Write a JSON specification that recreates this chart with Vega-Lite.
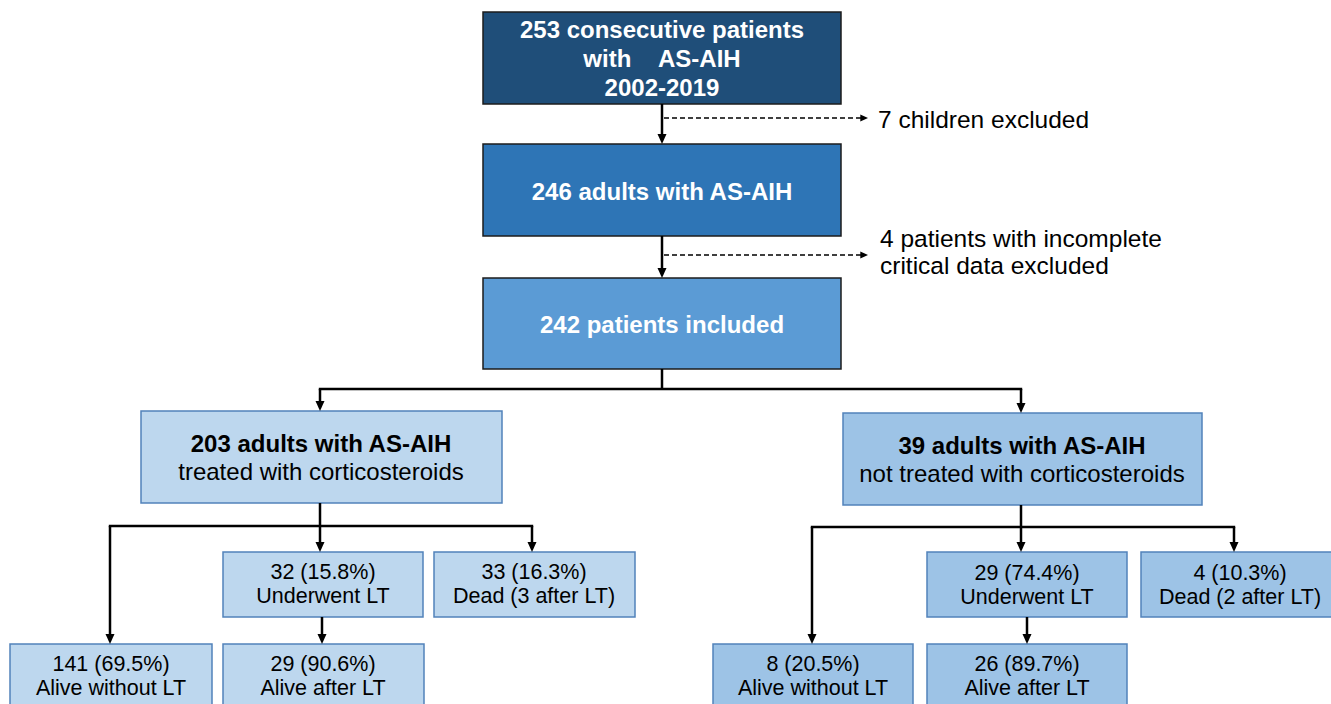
{
  "$schema": "https://vega.github.io/schema/vega-lite/v6.json",
  "width": 1331,
  "height": 704,
  "autosize": {"type": "fit", "contains": "padding"},
  "padding": 0,
  "background": "white",
  "config": {"view": {"stroke": null}},
  "datasets": {
    "boxes": [
      {"id": "b1", "tier": "t1", "x0": 483, "x1": 841, "y0": 12, "y1": 104},
      {"id": "b2", "tier": "t2", "x0": 483, "x1": 841, "y0": 144, "y1": 236},
      {"id": "b3", "tier": "t3", "x0": 483, "x1": 841, "y0": 278, "y1": 369},
      {"id": "L", "tier": "left", "x0": 141, "x1": 502, "y0": 411, "y1": 503},
      {"id": "R", "tier": "right", "x0": 843, "x1": 1202, "y0": 413, "y1": 505},
      {"id": "L1", "tier": "left", "x0": 223, "x1": 423, "y0": 552, "y1": 617},
      {"id": "L2", "tier": "left", "x0": 434, "x1": 635, "y0": 552, "y1": 617},
      {"id": "L3", "tier": "left", "x0": 10, "x1": 212, "y0": 644, "y1": 712},
      {"id": "L4", "tier": "left", "x0": 223, "x1": 424, "y0": 644, "y1": 712},
      {"id": "R1", "tier": "right", "x0": 927, "x1": 1127, "y0": 552, "y1": 617},
      {"id": "R2", "tier": "right", "x0": 1141, "x1": 1342, "y0": 552, "y1": 617},
      {"id": "R3", "tier": "right", "x0": 713, "x1": 913, "y0": 644, "y1": 712},
      {"id": "R4", "tier": "right", "x0": 927, "x1": 1127, "y0": 644, "y1": 712}
    ],
    "links": [
      {"x0": 662, "y0": 104, "x1": 662, "y1": 138},
      {"x0": 662, "y0": 236, "x1": 662, "y1": 272},
      {"x0": 662, "y0": 369, "x1": 662, "y1": 389},
      {"x0": 318.8, "y0": 389, "x1": 1022.2, "y1": 389},
      {"x0": 320, "y0": 389, "x1": 320, "y1": 405},
      {"x0": 1021, "y0": 389, "x1": 1021, "y1": 407},
      {"x0": 320, "y0": 503, "x1": 320, "y1": 546},
      {"x0": 108.8, "y0": 526, "x1": 533.2, "y1": 526},
      {"x0": 110, "y0": 526, "x1": 110, "y1": 638},
      {"x0": 532, "y0": 526, "x1": 532, "y1": 546},
      {"x0": 322, "y0": 617, "x1": 322, "y1": 638},
      {"x0": 1021, "y0": 505, "x1": 1021, "y1": 546},
      {"x0": 810.8, "y0": 527, "x1": 1235.2, "y1": 527},
      {"x0": 812, "y0": 527, "x1": 812, "y1": 638},
      {"x0": 1234, "y0": 527, "x1": 1234, "y1": 546},
      {"x0": 1027, "y0": 617, "x1": 1027, "y1": 638}
    ],
    "dashes": [
      {"x0": 664, "y0": 118, "x1": 862, "y1": 118},
      {"x0": 664, "y0": 255, "x1": 862, "y1": 255}
    ],
    "downTips": [
      {"x": 662, "y": 144}, {"x": 662, "y": 278}, {"x": 320, "y": 411},
      {"x": 1021, "y": 413}, {"x": 320, "y": 552}, {"x": 110, "y": 644},
      {"x": 532, "y": 552}, {"x": 322, "y": 644}, {"x": 1021, "y": 552},
      {"x": 812, "y": 644}, {"x": 1234, "y": 552}, {"x": 1027, "y": 644}
    ],
    "rightTips": [
      {"x": 868, "y": 118}, {"x": 868, "y": 255}
    ],
    "labels": [
      {"kind": "head", "x": 662, "y": 38, "text": "253 consecutive patients"},
      {"kind": "head", "x": 662, "y": 67, "text": "with\u00a0\u00a0\u00a0\u00a0AS-AIH"},
      {"kind": "head", "x": 662, "y": 96, "text": "2002-2019"},
      {"kind": "head", "x": 662, "y": 200, "text": "246 adults with AS-AIH"},
      {"kind": "head", "x": 662, "y": 333, "text": "242 patients included"},
      {"kind": "title", "x": 321, "y": 452, "text": "203 adults with AS-AIH"},
      {"kind": "title", "x": 1022, "y": 454, "text": "39 adults with AS-AIH"},
      {"kind": "body", "x": 321, "y": 480, "text": "treated with corticosteroids"},
      {"kind": "body", "x": 1022, "y": 482, "text": "not treated with corticosteroids"},
      {"kind": "small", "x": 323, "y": 579, "text": "32 (15.8%)"},
      {"kind": "small", "x": 323, "y": 603, "text": "Underwent LT"},
      {"kind": "small", "x": 534, "y": 579, "text": "33 (16.3%)"},
      {"kind": "small", "x": 534, "y": 603, "text": "Dead (3 after LT)"},
      {"kind": "small", "x": 111, "y": 671, "text": "141 (69.5%)"},
      {"kind": "small", "x": 111, "y": 695, "text": "Alive without LT"},
      {"kind": "small", "x": 323, "y": 671, "text": "29 (90.6%)"},
      {"kind": "small", "x": 323, "y": 695, "text": "Alive after LT"},
      {"kind": "small", "x": 1027, "y": 580, "text": "29 (74.4%)"},
      {"kind": "small", "x": 1027, "y": 604, "text": "Underwent LT"},
      {"kind": "small", "x": 1240, "y": 580, "text": "4 (10.3%)"},
      {"kind": "small", "x": 1240, "y": 604, "text": "Dead (2 after LT)"},
      {"kind": "small", "x": 813, "y": 671, "text": "8 (20.5%)"},
      {"kind": "small", "x": 813, "y": 695, "text": "Alive without LT"},
      {"kind": "small", "x": 1027, "y": 671, "text": "26 (89.7%)"},
      {"kind": "small", "x": 1027, "y": 695, "text": "Alive after LT"},
      {"kind": "note", "x": 878, "y": 128, "text": "7 children excluded"},
      {"kind": "note", "x": 880, "y": 247, "text": "4 patients with incomplete"},
      {"kind": "note", "x": 880, "y": 274, "text": "critical data excluded"}
    ]
  },
  "resolve": {"scale": {"fill": "independent", "stroke": "independent"}},
  "layer": [
    {
      "data": {"name": "boxes"},
      "mark": {"type": "rect", "clip": true, "strokeWidth": 1.5},
      "encoding": {
        "x": {"field": "x0", "type": "quantitative", "scale": {"domain": [0, 1331], "nice": false, "zero": false}, "axis": null},
        "x2": {"field": "x1"},
        "y": {"field": "y0", "type": "quantitative", "scale": {"domain": [0, 704], "nice": false, "zero": false, "reverse": true}, "axis": null},
        "y2": {"field": "y1"},
        "fill": {"field": "tier", "type": "nominal", "legend": null,
          "scale": {"domain": ["t1", "t2", "t3", "left", "right"], "range": ["#1F4E79", "#2E75B6", "#5B9BD5", "#BDD7EE", "#9DC3E6"]}},
        "stroke": {"field": "tier", "type": "nominal", "legend": null,
          "scale": {"domain": ["t1", "t2", "t3", "left", "right"], "range": ["#1c1c1c", "#1c1c1c", "#1c1c1c", "#5282BA", "#5282BA"]}}
      }
    },
    {
      "data": {"name": "links"},
      "mark": {"type": "rule", "color": "black", "strokeWidth": 2.5, "strokeCap": "butt"},
      "encoding": {
        "x": {"field": "x0", "type": "quantitative"},
        "x2": {"field": "x1"},
        "y": {"field": "y0", "type": "quantitative"},
        "y2": {"field": "y1"}
      }
    },
    {
      "data": {"name": "dashes"},
      "mark": {"type": "rule", "color": "black", "strokeWidth": 1.4, "strokeDash": [5, 3]},
      "encoding": {
        "x": {"field": "x0", "type": "quantitative"},
        "x2": {"field": "x1"},
        "y": {"field": "y0", "type": "quantitative"},
        "y2": {"field": "y1"}
      }
    },
    {
      "data": {"name": "downTips"},
      "mark": {"type": "point", "shape": "M-1,-2.2L1,-2.2L0,0Z", "filled": true, "color": "black", "opacity": 1, "size": 81, "strokeWidth": 0},
      "encoding": {
        "x": {"field": "x", "type": "quantitative"},
        "y": {"field": "y", "type": "quantitative"}
      }
    },
    {
      "data": {"name": "rightTips"},
      "mark": {"type": "point", "shape": "M-2.2,-1L0,0L-2.2,1Z", "filled": true, "color": "black", "opacity": 1, "size": 49, "strokeWidth": 0},
      "encoding": {
        "x": {"field": "x", "type": "quantitative"},
        "y": {"field": "y", "type": "quantitative"}
      }
    },
    {
      "data": {"name": "labels"},
      "transform": [{"filter": "datum.kind === 'head'"}],
      "mark": {"type": "text", "font": "Liberation Sans", "fontSize": 24, "fontWeight": "bold", "color": "white", "align": "center", "baseline": "alphabetic"},
      "encoding": {
        "x": {"field": "x", "type": "quantitative"},
        "y": {"field": "y", "type": "quantitative"},
        "text": {"field": "text"}
      }
    },
    {
      "data": {"name": "labels"},
      "transform": [{"filter": "datum.kind === 'title'"}],
      "mark": {"type": "text", "font": "Liberation Sans", "fontSize": 24, "fontWeight": "bold", "color": "black", "align": "center", "baseline": "alphabetic"},
      "encoding": {
        "x": {"field": "x", "type": "quantitative"},
        "y": {"field": "y", "type": "quantitative"},
        "text": {"field": "text"}
      }
    },
    {
      "data": {"name": "labels"},
      "transform": [{"filter": "datum.kind === 'body'"}],
      "mark": {"type": "text", "font": "Liberation Sans", "fontSize": 24, "color": "black", "align": "center", "baseline": "alphabetic"},
      "encoding": {
        "x": {"field": "x", "type": "quantitative"},
        "y": {"field": "y", "type": "quantitative"},
        "text": {"field": "text"}
      }
    },
    {
      "data": {"name": "labels"},
      "transform": [{"filter": "datum.kind === 'small'"}],
      "mark": {"type": "text", "font": "Liberation Sans", "fontSize": 21.5, "color": "black", "align": "center", "baseline": "alphabetic"},
      "encoding": {
        "x": {"field": "x", "type": "quantitative"},
        "y": {"field": "y", "type": "quantitative"},
        "text": {"field": "text"}
      }
    },
    {
      "data": {"name": "labels"},
      "transform": [{"filter": "datum.kind === 'note'"}],
      "mark": {"type": "text", "font": "Liberation Sans", "fontSize": 24.5, "color": "black", "align": "left", "baseline": "alphabetic"},
      "encoding": {
        "x": {"field": "x", "type": "quantitative"},
        "y": {"field": "y", "type": "quantitative"},
        "text": {"field": "text"}
      }
    }
  ]
}
